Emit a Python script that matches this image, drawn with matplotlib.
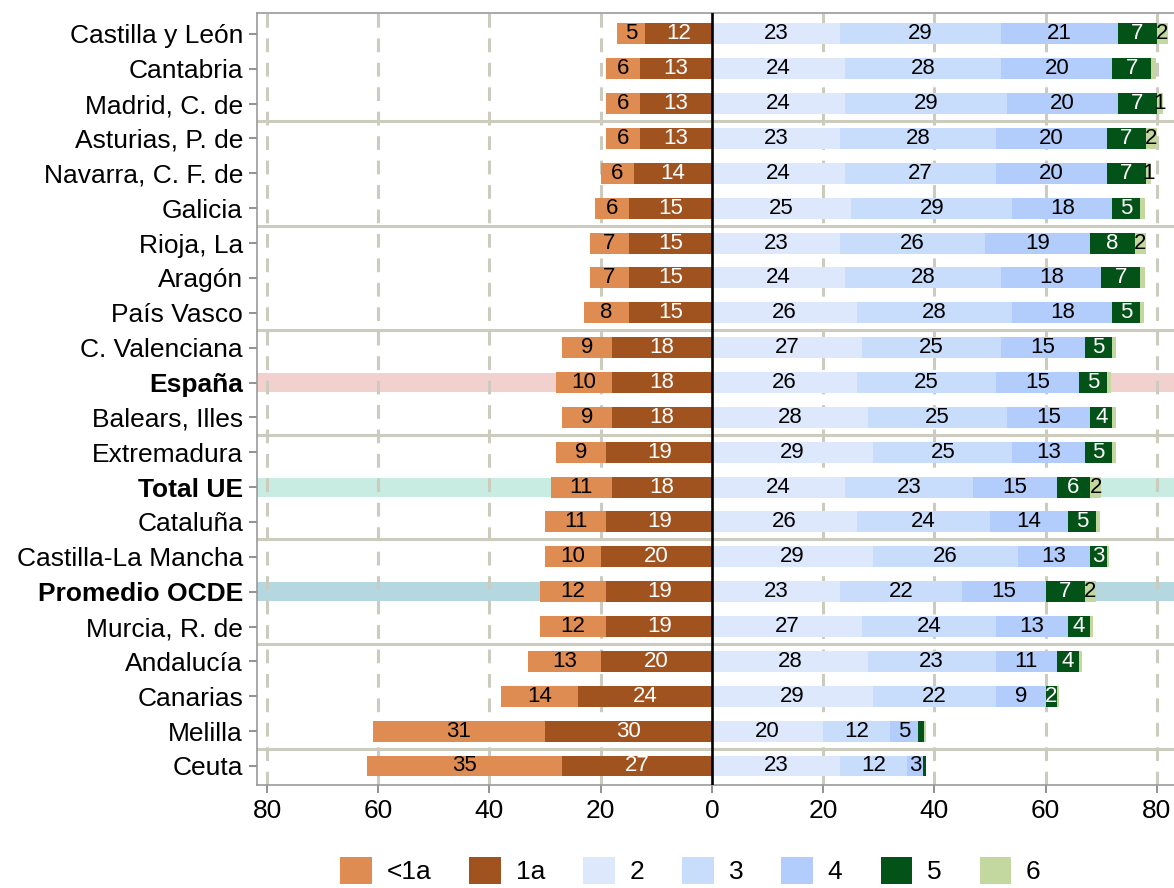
import numpy as np
import matplotlib
matplotlib.use("Agg")
from matplotlib import pyplot as plt
from matplotlib.patches import Patch

plt.rcParams['font.family'] = ['Liberation Sans', 'DejaVu Sans']

# rows, top to bottom
regions = ["Castilla y León", "Cantabria", "Madrid, C. de", "Asturias, P. de",
           "Navarra, C. F. de", "Galicia", "Rioja, La", "Aragón", "País Vasco",
           "C. Valenciana", "España", "Balears, Illes", "Extremadura", "Total UE",
           "Cataluña", "Castilla-La Mancha", "Promedio OCDE", "Murcia, R. de",
           "Andalucía", "Canarias", "Melilla", "Ceuta"]

lvl_lt1a = [5, 6, 6, 6, 6, 6, 7, 7, 8, 9, 10, 9, 9, 11, 11, 10, 12, 12, 13, 14, 31, 35]
lvl_1a = [12, 13, 13, 13, 14, 15, 15, 15, 15, 18, 18, 18, 19, 18, 19, 20, 19, 19, 20, 24, 30, 27]
lvl_2 = [23, 24, 24, 23, 24, 25, 23, 24, 26, 27, 26, 28, 29, 24, 26, 29, 23, 27, 28, 29, 20, 23]
lvl_3 = [29, 28, 29, 28, 27, 29, 26, 28, 28, 25, 25, 25, 25, 23, 24, 26, 22, 24, 23, 22, 12, 12]
lvl_4 = [21, 20, 20, 20, 20, 18, 19, 18, 18, 15, 15, 15, 13, 15, 14, 13, 15, 13, 11, 9, 5, 3]
lvl_5 = [7, 7, 7, 7, 7, 5, 8, 7, 5, 5, 5, 4, 5, 6, 5, 3, 7, 4, 4, 2, 1.2, 0.4]
lvl_6 = [2, 0.9, 1, 2, 1, 0.8, 2, 0.9, 0.7, 0.6, 0.7, 0.6, 0.6, 2, 0.7, 0.4, 2, 0.5, 0.6, 0.3, 0.3, 0]

highlight = {"España": "#F2D0CE", "Total UE": "#C8ECE1", "Promedio OCDE": "#B4D7E0"}

legend_labels = ["<1a", "1a", "2", "3", "4", "5", "6"]
colors = ["#DF8C52", "#A0521F", "#DDE8FC", "#C8DCFB", "#B2CCFB", "#035218", "#C3D89E"]
text_colors = ["black", "white", "black", "black", "black", "white", "black"]
min_label = [1, 1, 2, 2, 2, 2, 1]

fig = plt.figure(figsize=(11.74, 8.88), dpi=100)
ax = fig.add_axes([0.2189, 0.116, 0.7811, 0.8694])

n = len(regions)
y = np.arange(n)[::-1].astype(float)
bar_h = 0.6
grid_c = "#CBCBBE"

# highlight bands
for i, name in enumerate(regions):
    if name in highlight:
        ax.axhspan(y[i] - 0.27, y[i] + 0.27, color=highlight[name], lw=0, zorder=0)

# dashed grid and group separators
for gx in [-80, -60, -40, -20, 20, 40, 60, 80]:
    ax.axvline(gx, color=grid_c, lw=2.2, ls=(0, (4.5, 3.5)), zorder=0.5)
for k in range(3, n, 3):
    ax.axhline(n - k - 0.5, color=grid_c, lw=2.2, zorder=0.6)

# left side
lt1a = np.array(lvl_lt1a, float)
l1a = np.array(lvl_1a, float)
segments_left = [(lt1a, -l1a - lt1a), (l1a, -l1a)]
for idx, (vals, lefts) in enumerate(segments_left):
    ax.barh(y, vals, left=lefts, height=bar_h, color=colors[idx], lw=0, zorder=2)
    for yy, v, lf in zip(y, vals, lefts):
        if v >= min_label[idx]:
            ax.text(lf + v / 2, yy, f"{round(v)}", ha="center", va="center",
                    fontsize=16, color=text_colors[idx], zorder=4)

# right side
right = [lvl_2, lvl_3, lvl_4, lvl_5, lvl_6]
cum = np.zeros(n)
for j, vals in enumerate(right):
    idx = j + 2
    vals = np.array(vals, float)
    ax.barh(y, vals, left=cum, height=bar_h, color=colors[idx], lw=0, zorder=2)
    for yy, v, lf in zip(y, vals, cum):
        if v >= min_label[idx]:
            ax.text(lf + v / 2, yy, f"{round(v)}", ha="center", va="center",
                    fontsize=16, color=text_colors[idx], zorder=4)
    cum = cum + vals

ax.axvline(0, color="black", lw=1.9, zorder=5)

ax.set_xlim(-81.8, 83.06)
ax.set_ylim(-0.545, n - 1 + 0.6)
ticks = [-80, -60, -40, -20, 0, 20, 40, 60, 80]
ax.set_xticks(ticks)
ax.set_xticklabels([str(abs(t)) for t in ticks])
ax.set_yticks(y)
ax.set_yticklabels(regions)
for lab in ax.get_yticklabels():
    if lab.get_text() in highlight:
        lab.set_fontweight("bold")

for side in ["left", "bottom", "top"]:
    ax.spines[side].set_color("#9A9A9A")
    ax.spines[side].set_linewidth(1.2)
ax.spines["right"].set_visible(False)
ax.tick_params(axis="both", labelsize=19, color="#7F7F7F", width=1.2, length=6,
               labelcolor="black", pad=4)

handles = [Patch(facecolor=c, edgecolor="none") for c in colors]
fig.legend(handles, legend_labels, loc="center", bbox_to_anchor=(0.588, 0.02),
           ncol=7, frameon=False, fontsize=19, handlelength=1.2, handleheight=1.2,
           handletextpad=0.55, columnspacing=1.45, borderpad=0.2)

fig.savefig("out.png", dpi=100)
